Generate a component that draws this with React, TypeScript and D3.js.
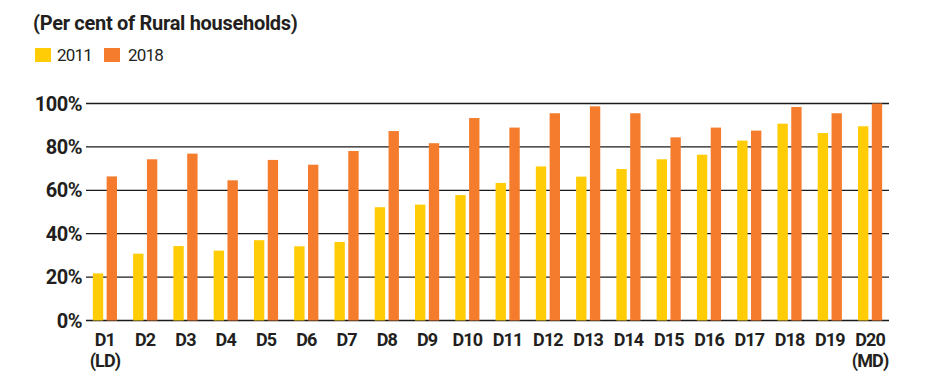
import React from "react";
import * as d3 from "d3";

const categories = ["D1", "D2", "D3", "D4", "D5", "D6", "D7", "D8", "D9", "D10", "D11", "D12", "D13", "D14", "D15", "D16", "D17", "D18", "D19", "D20"];
const subLabels = ["(LD)", "", "", "", "", "", "", "", "", "", "", "", "", "", "", "", "", "", "", "(MD)"];
const series = ["2011", "2018"];
const values2011 = [21.7, 30.8, 34.3, 32.2, 37, 34.2, 36.2, 52.2, 53.4, 57.8, 63.4, 71, 66.3, 69.8, 74.3, 76.4, 82.9, 90.7, 86.4, 89.5];
const values2018 = [66.4, 74.3, 76.9, 64.6, 74, 71.8, 78.1, 87.3, 81.7, 93.3, 88.9, 95.5, 98.7, 95.5, 84.4, 88.9, 87.5, 98.4, 95.5, 100];
const yTicks = [0, 20, 40, 60, 80, 100];
const title = "(Per cent of Rural households)";

const colors = ["#FFCC05", "#F47C2C"];
const textColor = "#231F20";
const font = "'Roboto', 'DejaVu Sans', sans-serif";

export default function App() {
  const W = 932, H = 384;
  const x0 = d3.scaleBand<string>().domain(categories).range([86, 889]).paddingInner(0.4).paddingOuter(0.17);
  const x1 = d3.scaleBand<string>().domain(series).range([0, x0.bandwidth()]).paddingInner(0.25);
  const y = d3.scaleLinear().domain([0, 100]).range([320.5, 103.5]);
  const data = [values2011, values2018];

  return (
    <svg width={W} height={H} style={{ position: "absolute", left: 0, top: 0, background: "#fff" }} fontFamily={font}>
      <rect x={0} y={0} width={W} height={H} fill="#fff" />
      <text x={33} y={30} fontSize={20} fontWeight="bold" letterSpacing={-0.3} fill={textColor}>{title}</text>
      {series.map((s, i) => (
        <g key={s}>
          <rect x={35 + i * 69} y={48} width={16} height={14} fill={colors[i]} />
          <text x={57 + i * 71} y={61} fontSize={17} letterSpacing={-0.8} fill={textColor}>{s}</text>
        </g>
      ))}
      {yTicks.map((t) => (
        <g key={t}>
          <line x1={86} x2={889} y1={y(t)} y2={y(t)} stroke="#1a1a1a" strokeWidth={1.3} />
          <text x={82} y={y(t) + 7} fontSize={20} fontWeight="bold" letterSpacing={-0.5} textAnchor="end" fill={textColor}>{t}%</text>
        </g>
      ))}
      {categories.map((c, ci) => (
        <g key={c} transform={`translate(${x0(c)},0)`}>
          {series.map((s, si) => (
            <rect key={s} x={x1(s)} y={y(data[si][ci])} width={x1.bandwidth()} height={y(0) - y(data[si][ci])} fill={colors[si]} />
          ))}
          <text x={x0.bandwidth() / 2} y={346} fontSize={18} fontWeight="bold" letterSpacing={-0.9} textAnchor="middle" fill={textColor}>{c}</text>
          {subLabels[ci] && (
            <text x={x0.bandwidth() / 2} y={367} fontSize={18} fontWeight="bold" letterSpacing={-0.9} textAnchor="middle" fill={textColor}>{subLabels[ci]}</text>
          )}
        </g>
      ))}
    </svg>
  );
}
